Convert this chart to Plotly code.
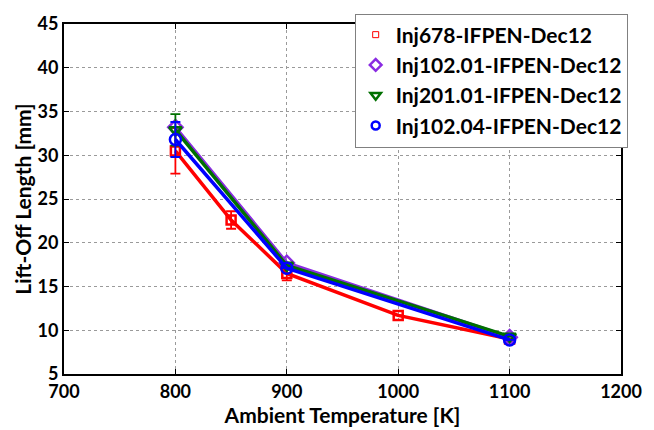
import plotly.graph_objects as go

# Lift-off length vs ambient temperature for four injectors
temp_678 = [800, 850, 900, 1000, 1100]
lol_678 = [30.5, 22.6, 16.5, 11.7, 9.0]
err_678 = [2.6, 1.0, 0.8, 0.0, 0.0]

temp_10201 = [800, 900, 1100]
lol_10201 = [33.2, 17.7, 9.2]
err_10201 = [0.0, 0.0, 0.0]

temp_20101 = [800, 900, 1100]
lol_20101 = [32.9, 17.4, 9.3]
err_20101 = [1.8, 0.0, 0.0]

temp_10204 = [800, 900, 1100]
lol_10204 = [31.8, 17.1, 8.9]
err_10204 = [2.0, 0.0, 0.0]

x_ticks = [700, 800, 900, 1000, 1100, 1200]
y_ticks = [5, 10, 15, 20, 25, 30, 35, 40, 45]

series = [
    ("Inj678-IFPEN-Dec12", temp_678, lol_678, err_678, "#ff0000", "square-open", 9, 6, 1),
    ("Inj102.01-IFPEN-Dec12", temp_10201, lol_10201, err_10201, "#8a2be2", "diamond-open", 11, 9, 2.5),
    ("Inj201.01-IFPEN-Dec12", temp_20101, lol_20101, err_20101, "#007000", "triangle-down-open", 11, 9, 2.5),
    ("Inj102.04-IFPEN-Dec12", temp_10204, lol_10204, err_10204, "#0000ff", "circle-open", 11, 8, 2.5),
]

FONT = "Lato, 'DejaVu Sans', sans-serif"

fig = go.Figure()
for name, xs, ys, es, color, symbol, size, lsize, lwidth in series:
    fig.add_trace(go.Scatter(
        x=xs, y=ys, name=name, mode="lines+markers", showlegend=False,
        line=dict(color=color, width=3.5),
        marker=dict(symbol=symbol, size=size, color=color,
                    line=dict(color=color, width=2.5)),
        error_y=dict(type="data", array=es, visible=True, color=color,
                     thickness=1.8, width=5),
    ))
# legend entries show the marker only
for name, xs, ys, es, color, symbol, size, lsize, lwidth in series:
    fig.add_trace(go.Scatter(
        x=[None], y=[None], name=f"<b>{name}</b>", mode="markers",
        marker=dict(symbol=symbol, size=lsize, color=color,
                    line=dict(color=color, width=lwidth)),
    ))

axis_font = dict(family=FONT, size=18, color="black", weight=900)
title_font = dict(family=FONT, size=21, color="black", weight=900)

fig.update_xaxes(
    range=[700, 1200], tickvals=x_ticks,
    ticktext=[f"<b>{v}</b>" for v in x_ticks],
    title=dict(text="<b>Ambient Temperature [K]</b>", font=title_font, standoff=2),
    tickfont=axis_font, showline=True, linecolor="black", linewidth=2,
    mirror="ticks", ticks="inside", ticklen=5, tickcolor="black",
    showgrid=True, gridcolor="#9a9a9a", griddash="dot", gridwidth=1,
    zeroline=False,
)
fig.update_yaxes(
    range=[5, 45], tickvals=y_ticks,
    ticktext=[f"<b>{v}</b>" for v in y_ticks],
    title=dict(text="<b>Lift-Off Length [mm]</b>", font=title_font, standoff=0),
    tickfont=axis_font, showline=True, linecolor="black", linewidth=2,
    mirror="ticks", ticks="inside", ticklen=5, tickcolor="black",
    showgrid=True, gridcolor="#9a9a9a", griddash="dot", gridwidth=1,
    zeroline=False,
)

fig.update_layout(
    width=654, height=430,
    margin=dict(l=64, r=24, t=13, b=54),
    paper_bgcolor="white", plot_bgcolor="white",
    legend=dict(
        x=1.012, y=1.03, xanchor="right", yanchor="top",
        bgcolor="white", bordercolor="#808080", borderwidth=1,
        font=dict(family=FONT, size=21, color="black", weight=900),
        itemwidth=30, tracegroupgap=0,
    ),
    showlegend=True,
)

fig.write_html("out.html")
